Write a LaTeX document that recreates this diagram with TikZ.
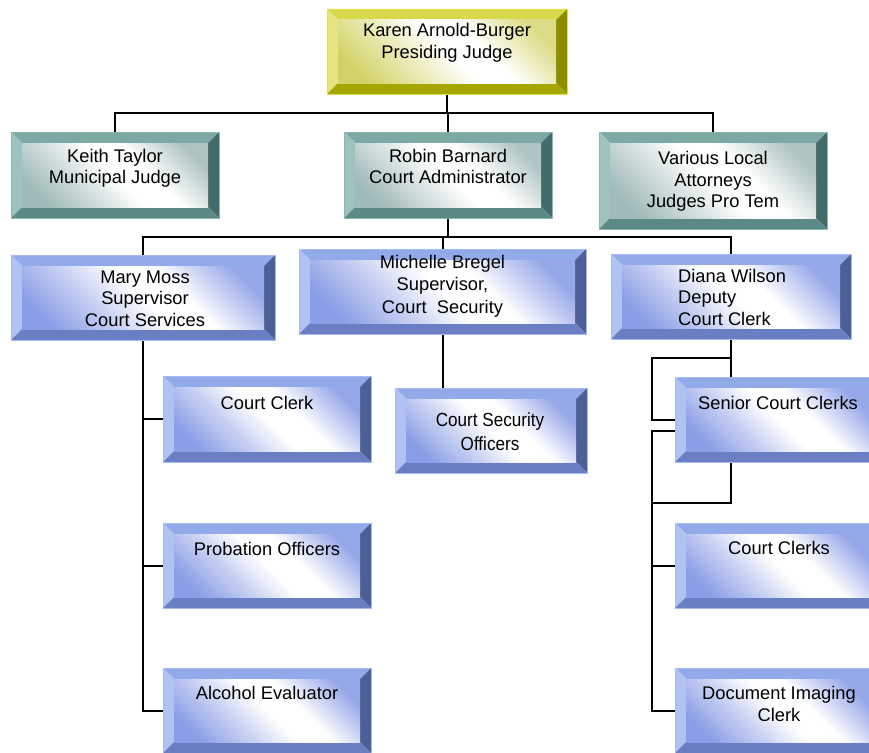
\documentclass[tikz,border=0pt]{standalone}
\usepackage{fontspec}
\setmainfont{Liberation Sans}
\usetikzlibrary{fit}
\definecolor{ytop}{HTML}{D8D84A}
\definecolor{yleft}{HTML}{E4E482}
\definecolor{yright}{HTML}{8C8C00}
\definecolor{ybot}{HTML}{A6A600}
\definecolor{yline}{HTML}{E2E24A}
\definecolor{yfc}{HTML}{D2D266}
\definecolor{ttop}{HTML}{7EA8A5}
\definecolor{tleft}{HTML}{9DC2BF}
\definecolor{tright}{HTML}{436B69}
\definecolor{tbot}{HTML}{5B8986}
\definecolor{tline}{HTML}{8FB5B2}
\definecolor{tfc}{HTML}{9FBAB8}
\definecolor{btop}{HTML}{93AAEA}
\definecolor{bleft}{HTML}{B0C1F2}
\definecolor{bright}{HTML}{4C5F96}
\definecolor{bbot}{HTML}{6A7FC3}
\definecolor{bline}{HTML}{A9BAF0}
\definecolor{bfc}{HTML}{8A9DE6}
\pgfdeclareverticalshading{yface}{100bp}{color(0bp)=(yfc); color(22bp)=(yfc); color(38bp)=(yfc!45!white); color(50bp)=(white); color(60bp)=(white); color(78bp)=(yfc!80!white); color(100bp)=(yfc!80!white)}
\pgfdeclareverticalshading{tface}{100bp}{color(0bp)=(tfc); color(22bp)=(tfc); color(38bp)=(tfc!45!white); color(50bp)=(white); color(60bp)=(white); color(78bp)=(tfc!85!white); color(100bp)=(tfc!85!white)}
\pgfdeclareverticalshading{bface}{100bp}{color(0bp)=(bfc); color(22bp)=(bfc); color(38bp)=(bfc!45!white); color(50bp)=(white); color(60bp)=(white); color(78bp)=(bfc!90!white); color(100bp)=(bfc!90!white)}
\pgfdeclarelayer{bg}
\pgfsetlayers{bg,main}
\tikzset{
  bev/.style n args={5}{inner sep=0pt, path picture={
    \path (path picture bounding box.north west) coordinate (bvnw)
          (path picture bounding box.north east) coordinate (bvne)
          (path picture bounding box.south west) coordinate (bvsw)
          (path picture bounding box.south east) coordinate (bvse);
    \fill[#1] (bvnw) -- (bvne) -- ([shift={(-11pt,-11pt)}]bvne) -- ([shift={(11pt,-11pt)}]bvnw) -- cycle;
    \fill[#2] (bvnw) -- (bvsw) -- ([shift={(11pt,11pt)}]bvsw) -- ([shift={(11pt,-11pt)}]bvnw) -- cycle;
    \fill[#3] (bvne) -- (bvse) -- ([shift={(-11pt,11pt)}]bvse) -- ([shift={(-11pt,-11pt)}]bvne) -- cycle;
    \fill[#4] (bvsw) -- (bvse) -- ([shift={(-11pt,11pt)}]bvse) -- ([shift={(11pt,11pt)}]bvsw) -- cycle;
    \shade[shading=#5, shading angle=-45] ([shift={(11pt,-11pt)}]bvnw) rectangle ([shift={(-11pt,11pt)}]bvse);
  }},
  ybox/.style={bev={ytop}{yleft}{yright}{ybot}{yface}, draw=yline, line width=0.8pt},
  tbox/.style={bev={ttop}{tleft}{tright}{tbot}{tface}, draw=tline, line width=0.6pt},
  bbox/.style={bev={btop}{bleft}{bright}{bbot}{bface}, draw=bline, line width=0.6pt},
  txt/.style={font=\fontsize{18.3}{21.5}\selectfont, align=center, inner sep=0pt, text=black},
  conn/.style={draw=black, line width=2pt},
}
\begin{document}
\begin{tikzpicture}[x=1pt, y=-1pt]
\useasboundingbox (0,0) rectangle (869,752);
% boxes
\node[ybox, fit={(327,9) (567,94)}] (top) {};
\node[tbox, fit={(11,132) (219,218)}] (keith) {};
\node[tbox, fit={(344,132) (552,218)}] (robin) {};
\node[tbox, fit={(599,132) (827,229)}] (various) {};
\node[bbox, fit={(11,255) (275,340)}] (mary) {};
\node[bbox, fit={(299,249) (586,334)}] (michelle) {};
\node[bbox, fit={(611,254) (851,339)}] (diana) {};
\node[bbox, fit={(163,376) (371,462)}] (cclerk) {};
\node[bbox, fit={(163,523) (371,608)}] (prob) {};
\node[bbox, fit={(163,668) (371,753)}] (alc) {};
\node[bbox, fit={(395,388) (587,473)}] (cso) {};
\node[bbox, fit={(675,377) (881,462)}] (senior) {};
\node[bbox, fit={(675,523) (881,608)}] (cclerks) {};
\node[bbox, fit={(675,668) (881,753)}] (doc) {};
% texts (anchor base = baseline of last line)
\node[txt, anchor=base] (topT) at (447,58.5) {Karen Arnold-Burger\\Presiding Judge};
\node[txt, anchor=base] (keithT) at (115,183.5) {Keith Taylor\\Municipal Judge};
\node[txt, anchor=base] (robinT) at (448,183.5) {Robin Barnard\\Court Administrator};
\node[txt, anchor=base] (variousT) at (713,207.5) {Various Local\\Attorneys\\Judges Pro Tem};
\node[txt, anchor=base] (maryT) at (145,326) {Mary Moss\\Supervisor\\Court Services};
\node[txt, font=\fontsize{18.3}{22.5}\selectfont, anchor=base] (michelleT) at (442.5,313) {Michelle Bregel\\Supervisor,\\Court\ \ Security};
\node[txt, align=left, anchor=base west] (dianaT) at (678,325) {Diana Wilson\\Deputy\\Court Clerk};
\node[txt, anchor=base] (cclerkT) at (267,409) {Court Clerk};
\node[txt, anchor=base] (probT) at (267,555) {Probation Officers};
\node[txt, anchor=base] (alcT) at (267,699) {Alcohol Evaluator};
\node[txt, font=\fontsize{19}{23.3}\selectfont, anchor=base] (csoT) at (490,450) {\scalebox{0.9}[1]{Court Security}\\\scalebox{0.9}[1]{Officers}};
\node[txt, anchor=base] (seniorT) at (778,409) {Senior Court Clerks};
\node[txt, anchor=base] (cclerksT) at (779,554) {Court Clerks};
\node[txt, anchor=base] (docT) at (779,721) {Document Imaging\\Clerk};
% connectors
\begin{pgfonlayer}{bg}
\fill[white] (0,0) rectangle (869,752);
\coordinate (j1) at (447,113);
\coordinate (j2) at (448,237);
\coordinate (rj) at (652,503);
\draw[conn] (top.south) -- (j1);
\draw[conn] (j1) -| (keith.north);
\draw[conn] (j1) -| (various.north);
\draw[conn] (j1) -| (robin.north);
\draw[conn] (robin.south) -- (j2);
\draw[conn] (j2) -| (mary.north);
\draw[conn] (j2) -| (diana.north);
\draw[conn] (j2) -| (michelle.north);
\draw[conn] (mary.south) |- (cclerk.west);
\draw[conn] (mary.south) |- (prob.west);
\draw[conn] (mary.south) |- (alc.west);
\draw[conn] (michelle.south) -- (michelle.south |- cso.north);
\draw[conn] (diana.south) |- (rj);
\draw[conn] ([yshift=-19pt]diana.south) -| ([xshift=-23pt]senior.west) -- (senior.west);
\draw[conn] ([yshift=-11pt]senior.west) -| (rj);
\draw[conn] (rj) |- (cclerks.west);
\draw[conn] (rj) |- (doc.west);
\end{pgfonlayer}
\end{tikzpicture}
\end{document}
